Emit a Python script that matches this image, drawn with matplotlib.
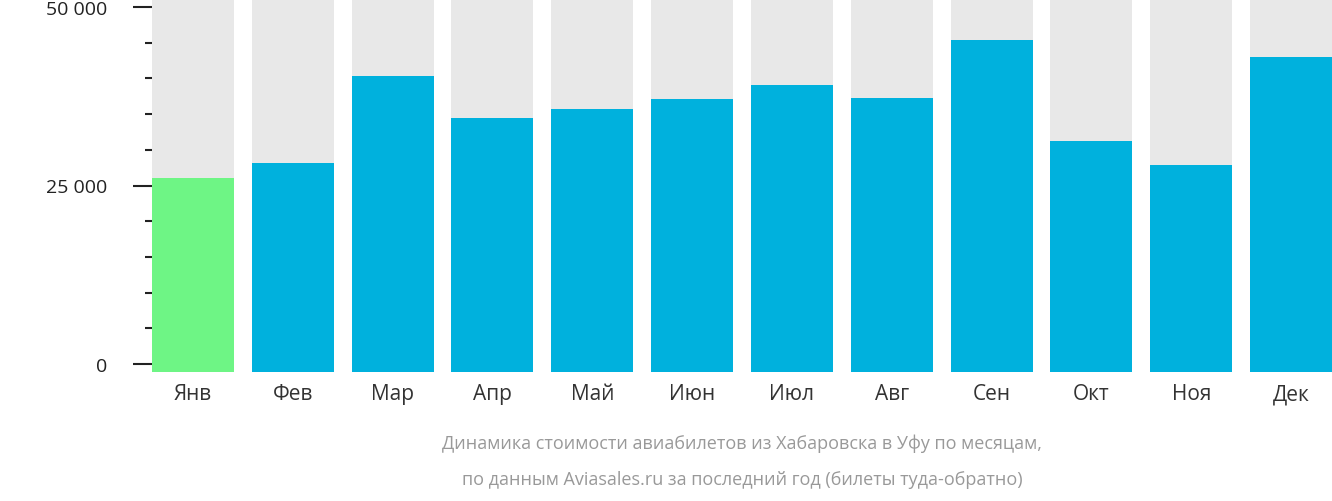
import matplotlib.pyplot as plt
import numpy as np

months = ["Янв", "Фев", "Мар", "Апр", "Май", "Июн", "Июл", "Авг", "Сен", "Окт", "Ноя", "Дек"]
prices = [26100, 28200, 40300, 34400, 35700, 37100, 39000, 37200, 45400, 31200, 27900, 43000]
cheapest = 0

plt.rcParams["font.family"] = "Open Sans"

fig = plt.figure(figsize=(13.32, 5.02), dpi=100)
ax = fig.add_axes([152 / 1332, 1 - 373 / 502, 1 - 152 / 1332, 373 / 502])

ymin, ymax = -1100, 51100
x = np.arange(len(months))
colors = ["#6ef585" if i == cheapest else "#00b1dd" for i in range(len(months))]
ax.bar(x, ymax - ymin, 0.82, bottom=ymin, color="#e8e8e8")
ax.bar(x, np.array(prices) - ymin, 0.82, bottom=ymin, color=colors)

ax.set_xlim(-0.41, len(months) - 0.59)
ax.set_ylim(ymin, ymax)
for s in ax.spines.values():
    s.set_visible(False)

ax.set_yticks([0, 25000, 50000])
ax.set_yticklabels(["0 ₽", "25 000 ₽", "50 000 ₽"], fontsize=14, color="#222222")
ax.set_yticks(np.arange(0, 50001, 5000), minor=True)
ax.tick_params(axis="y", which="major", length=14, width=1.5, color="#222222", pad=6)
ax.tick_params(axis="y", which="minor", length=5, width=1.5, color="#222222")
ax.yaxis.set_ticks_position("left")
for t in ax.yaxis.get_major_ticks():
    t.tick1line.set_markeredgewidth(1.5)
ax.tick_params(axis="y", direction="out")
ax.yaxis.set_tick_params(which="both", left=True)
# shift ticks away from bars
for t in ax.yaxis.get_major_ticks() + ax.yaxis.get_minor_ticks():
    t.tick1line.set_transform(t.tick1line.get_transform())

ax.set_xticks(x)
ax.set_xticklabels(months, fontsize=15, color="#333333")
ax.tick_params(axis="x", length=0, pad=8)

fig.text(0.557, 1 - 444 / 502, "Динамика стоимости авиабилетов из Хабаровска в Уфу по месяцам,",
         ha="center", va="center", fontsize=13, color="#999999")
fig.text(0.557, 1 - 480 / 502, "по данным Aviasales.ru за последний год (билеты туда-обратно)",
         ha="center", va="center", fontsize=13, color="#999999")

fig.savefig("out.png", dpi=100)
